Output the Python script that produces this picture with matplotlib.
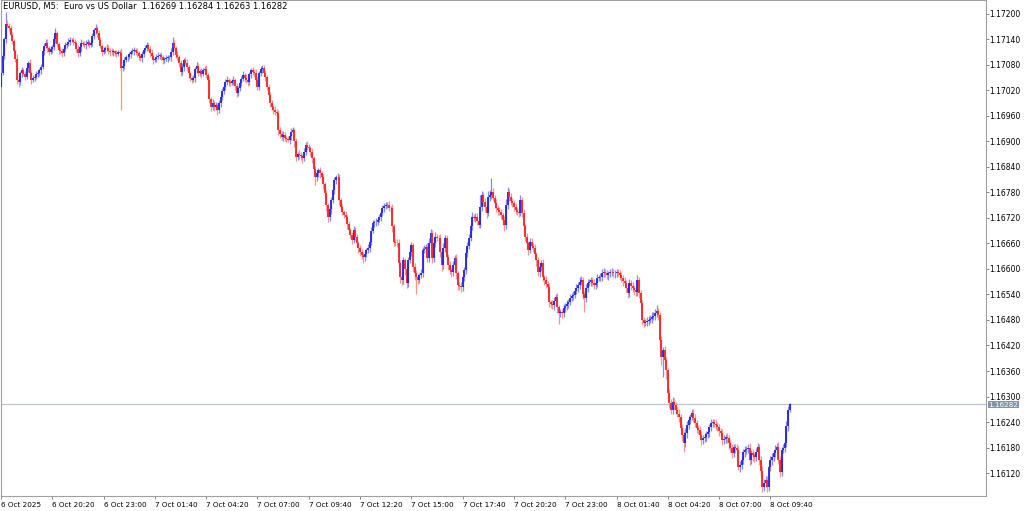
import matplotlib
matplotlib.use("Agg")
import matplotlib.pyplot as plt
import matplotlib.transforms as mtransforms

# EURUSD M5 bars, 6 Oct 17:40 -> 8 Oct 10:40
# prices are kept in points (0.00001) above 1.16000
BASE = 1.16
POINT = 0.00001
FIRST_OPEN = 1028

CLOSE = [
    1062, 1100, 1140, 1176, 1172, 1168, 1150, 1136, 1112, 1095, 1045, 1040, 1060, 1068, 1058, 1052, 1072, 1085, 1060, 1045,
    1050, 1052, 1058, 1061, 1068, 1075, 1112, 1125, 1132, 1120, 1111, 1118, 1122, 1140, 1155, 1130, 1115, 1112, 1108, 1118,
    1127, 1130, 1135, 1139, 1139, 1135, 1132, 1118, 1108, 1122, 1132, 1130, 1127, 1130, 1134, 1128, 1132, 1148, 1162, 1167,
    1155, 1139, 1125, 1111, 1115, 1120, 1120, 1114, 1111, 1110, 1112, 1108, 1106, 1110, 1108, 1073, 1078, 1092, 1098, 1099,
    1105, 1111, 1112, 1115, 1110, 1108, 1100, 1096, 1105, 1115, 1120, 1127, 1118, 1108, 1100, 1092, 1094, 1099, 1102, 1104,
    1098, 1092, 1094, 1096, 1098, 1099, 1110, 1132, 1120, 1104, 1098, 1085, 1064, 1075, 1092, 1085, 1075, 1060, 1049, 1045,
    1049, 1070, 1078, 1060, 1065, 1058, 1068, 1070, 1056, 1045, 1000, 981, 990, 981, 985, 974, 990, 1005, 1018, 1028,
    1040, 1045, 1040, 1038, 1042, 1045, 1030, 1014, 1025, 1038, 1048, 1056, 1050, 1045, 1040, 1058, 1068, 1064, 1061, 1045,
    1028, 1061, 1070, 1073, 1060, 1052, 1028, 1010, 991, 982, 974, 970, 967, 927, 918, 911, 915, 908, 906, 904,
    912, 922, 927, 900, 864, 870, 868, 865, 861, 875, 892, 888, 885, 875, 861, 835, 816, 825, 833, 825,
    816, 800, 779, 750, 722, 740, 762, 785, 809, 816, 816, 762, 745, 734, 728, 722, 705, 692, 680, 668,
    692, 675, 661, 650, 640, 632, 628, 636, 645, 650, 664, 690, 708, 710, 711, 716, 722, 732, 744, 748,
    751, 751, 744, 744, 700, 664, 662, 661, 614, 581, 574, 621, 600, 567, 621, 640, 656, 605, 590, 580,
    574, 585, 591, 645, 648, 652, 626, 660, 685, 626, 660, 675, 674, 673, 640, 609, 650, 673, 628, 610,
    598, 593, 610, 626, 590, 562, 560, 558, 580, 598, 638, 655, 673, 700, 722, 720, 722, 712, 704, 745,
    774, 758, 745, 732, 769, 775, 781, 767, 755, 744, 738, 734, 727, 715, 704, 750, 781, 769, 760, 755,
    745, 739, 735, 732, 762, 732, 700, 675, 660, 645, 664, 655, 649, 635, 621, 593, 605, 614, 581, 575,
    565, 558, 522, 518, 515, 525, 534, 510, 496, 498, 496, 508, 512, 518, 522, 532, 536, 539, 548, 555,
    562, 570, 574, 540, 532, 555, 567, 570, 574, 568, 562, 567, 579, 580, 581, 591, 593, 590, 586, 590,
    592, 593, 590, 591, 592, 591, 585, 579, 572, 567, 556, 544, 567, 560, 555, 550, 546, 574, 544, 520,
    480, 473, 475, 478, 480, 483, 487, 490, 496, 500, 491, 433, 393, 409, 385, 362, 308, 285, 268, 287,
    280, 268, 260, 252, 226, 210, 191, 215, 233, 245, 252, 261, 250, 238, 225, 221, 210, 198, 202, 205,
    212, 216, 228, 238, 240, 236, 232, 228, 220, 214, 198, 200, 204, 202, 191, 180, 167, 181, 178, 174,
    134, 140, 151, 169, 174, 176, 179, 151, 167, 162, 158, 170, 181, 151, 125, 87, 96, 104, 87, 134,
    150, 158, 167, 175, 181, 151, 122, 174, 180, 191, 230, 269, 282,
]

# wick lengths above the body top and below the body bottom, in points
UP_WICK = [
    20, 8, 6, 29, 10, 6, 5, 8, 4, 6, 10, 12, 6, 8, 5, 9, 6, 5, 10, 7,
    6, 5, 8, 4, 6, 7, 9, 6, 10, 8, 5, 7, 6, 8, 12, 6, 5, 9, 8, 6,
    7, 5, 9, 6, 4, 8, 6, 5, 10, 6, 8, 5, 7, 9, 6, 5, 8, 7, 6, 10,
    5, 8, 6, 4, 7, 5, 9, 6, 5, 8, 6, 4, 7, 5, 6, 12, 8, 6, 5, 7,
    6, 5, 8, 7, 5, 9, 6, 5, 8, 6, 7, 8, 5, 6, 9, 7, 5, 6, 8, 5,
    7, 6, 5, 8, 6, 5, 9, 14, 6, 5, 8, 6, 7, 9, 5, 6, 8, 5, 7, 6,
    8, 6, 9, 7, 5, 8, 6, 7, 10, 6, 8, 5, 9, 6, 7, 5, 8, 6, 9, 7,
    6, 8, 5, 7, 6, 9, 5, 8, 6, 7, 5, 9, 6, 8, 7, 5, 6, 8, 7, 9,
    6, 5, 8, 7, 6, 9, 5, 8, 6, 7, 5, 9, 6, 8, 7, 6, 10, 7, 5, 8,
    6, 9, 7, 5, 8, 6, 10, 7, 5, 9, 6, 8, 7, 5, 9, 6, 8, 7, 5, 8,
    6, 7, 5, 8, 6, 9, 7, 5, 8, 6, 10, 7, 6, 8, 5, 9, 6, 7, 5, 8,
    9, 6, 8, 5, 7, 6, 9, 7, 5, 8, 6, 9, 7, 6, 8, 5, 7, 9, 6, 8,
    7, 6, 9, 5, 8, 7, 6, 8, 9, 7, 10, 8, 6, 9, 7, 12, 8, 6, 9, 7,
    8, 6, 10, 7, 9, 6, 8, 14, 9, 7, 10, 12, 8, 6, 9, 7, 10, 6, 8, 7,
    9, 6, 8, 7, 10, 6, 8, 9, 7, 6, 10, 8, 9, 7, 12, 8, 10, 9, 7, 28,
    10, 8, 9, 12, 14, 10, 33, 9, 8, 10, 7, 9, 6, 8, 10, 14, 12, 8, 9, 7,
    8, 10, 7, 9, 12, 8, 10, 7, 9, 6, 10, 8, 7, 9, 6, 8, 10, 7, 9, 6,
    8, 7, 10, 6, 8, 9, 7, 10, 6, 8, 7, 9, 8, 10, 7, 9, 8, 10, 7, 9,
    8, 10, 9, 7, 8, 10, 9, 7, 8, 6, 9, 8, 10, 7, 9, 8, 10, 7, 8, 6,
    7, 9, 8, 6, 7, 9, 6, 8, 7, 9, 8, 6, 10, 7, 9, 8, 6, 12, 8, 7,
    6, 8, 7, 9, 10, 8, 12, 9, 10, 15, 8, 7, 10, 8, 9, 7, 6, 10, 8, 12,
    9, 7, 8, 10, 7, 9, 8, 10, 9, 8, 7, 10, 9, 8, 7, 9, 10, 8, 7, 9,
    8, 10, 7, 9, 8, 7, 10, 9, 8, 7, 9, 10, 8, 9, 7, 8, 9, 7, 8, 10,
    9, 8, 10, 7, 9, 8, 10, 12, 8, 9, 7, 10, 9, 8, 10, 12, 9, 8, 10, 12,
    10, 9, 8, 10, 9, 12, 10, 8, 9, 10, 12, 8, 2,
]

DOWN_WICK = [
    2, 6, 5, 8, 6, 9, 5, 7, 6, 8, 10, 12, 6, 9, 5, 7, 6, 8, 10, 9,
    6, 8, 5, 7, 6, 9, 5, 8, 6, 10, 7, 5, 9, 6, 8, 7, 10, 6, 9, 8,
    5, 7, 6, 9, 5, 8, 6, 7, 10, 6, 8, 5, 7, 9, 6, 8, 5, 7, 6, 9,
    8, 10, 6, 9, 5, 7, 6, 8, 9, 6, 10, 7, 8, 5, 6, 99, 8, 7, 6, 9,
    5, 8, 6, 9, 7, 10, 8, 6, 9, 7, 5, 8, 6, 9, 7, 10, 6, 8, 5, 7,
    6, 9, 7, 5, 8, 6, 9, 7, 5, 8, 6, 10, 9, 7, 8, 6, 9, 10, 7, 8,
    6, 8, 9, 7, 6, 8, 5, 9, 7, 6, 10, 9, 7, 10, 8, 12, 6, 8, 7, 6,
    8, 6, 9, 7, 6, 8, 10, 9, 7, 6, 8, 5, 9, 7, 10, 6, 8, 7, 9, 10,
    8, 6, 7, 9, 6, 10, 8, 9, 10, 7, 9, 8, 10, 12, 10, 8, 9, 7, 8, 6,
    10, 8, 7, 12, 9, 8, 10, 9, 12, 8, 7, 9, 8, 10, 12, 14, 18, 10, 8, 12,
    10, 12, 9, 14, 11, 8, 10, 7, 9, 8, 6, 12, 10, 8, 9, 10, 12, 9, 8, 10,
    8, 10, 9, 12, 10, 8, 14, 9, 8, 7, 10, 8, 6, 9, 8, 7, 6, 8, 7, 9,
    6, 8, 7, 9, 12, 10, 8, 9, 12, 14, 12, 10, 14, 12, 10, 8, 9, 12, 15, 40,
    10, 8, 7, 9, 8, 12, 10, 9, 7, 12, 10, 8, 9, 8, 12, 14, 8, 9, 15, 12,
    10, 12, 9, 10, 14, 12, 10, 12, 9, 8, 10, 9, 8, 7, 9, 8, 10, 9, 8, 7,
    8, 9, 10, 12, 8, 9, 10, 8, 12, 9, 10, 8, 9, 12, 14, 10, 8, 9, 10, 8,
    9, 10, 8, 9, 7, 10, 12, 9, 10, 12, 8, 9, 10, 12, 14, 10, 12, 9, 10, 12,
    10, 14, 12, 10, 9, 12, 10, 14, 26, 10, 12, 9, 10, 8, 9, 7, 8, 9, 7, 8,
    9, 8, 7, 10, 33, 9, 8, 7, 9, 8, 10, 8, 9, 7, 8, 9, 10, 8, 9, 12,
    8, 9, 10, 12, 9, 8, 10, 9, 12, 10, 9, 12, 10, 9, 8, 12, 10, 9, 12, 14,
    12, 10, 8, 9, 10, 8, 9, 7, 10, 9, 12, 20, 18, 47, 15, 20, 14, 12, 10, 9,
    12, 10, 9, 12, 10, 14, 22, 10, 12, 9, 10, 8, 9, 10, 12, 9, 10, 12, 9, 8,
    10, 9, 12, 10, 9, 8, 10, 9, 12, 10, 12, 9, 10, 12, 14, 10, 12, 9, 10, 12,
    7, 12, 10, 9, 12, 10, 9, 12, 10, 14, 12, 10, 9, 12, 14, 12, 10, 9, 12, 10,
    9, 12, 10, 9, 8, 10, 12, 9, 8, 10, 9, 12, 6,
]

TICK_EVERY = 32  # one time label every 32 bars (2h40m)
TIME_LABELS = [
    "6 Oct 2025", "6 Oct 20:20", "6 Oct 23:00", "7 Oct 01:40", "7 Oct 04:20",
    "7 Oct 07:00", "7 Oct 09:40", "7 Oct 12:20", "7 Oct 15:00", "7 Oct 17:40",
    "7 Oct 20:20", "7 Oct 23:00", "8 Oct 01:40", "8 Oct 04:20", "8 Oct 07:00",
    "8 Oct 09:40",
]
PRICE_TICKS = [1.16120, 1.16180, 1.16240, 1.16300, 1.16360, 1.16420, 1.16480,
               1.16540, 1.16600, 1.16660, 1.16720, 1.16780, 1.16840, 1.16900,
               1.16960, 1.17020, 1.17080, 1.17140, 1.17200]
HEADER = "EURUSD, M5:  Euro vs US Dollar  1.16269 1.16284 1.16263 1.16282"
LAST_PRICE = 1.16282

BULL = "#2323dc"
BEAR = "#f42424"
BULL_WICK = "#8888ec"
BEAR_WICK = "#f59494"
FRAME = "#a0a0a0"
FONT = 5.5


def build_bars():
    opens = [FIRST_OPEN] + CLOSE[:-1]
    highs, lows = [], []
    for o, c, up, dn in zip(opens, CLOSE, UP_WICK, DOWN_WICK):
        highs.append(max(o, c) + up)
        lows.append(min(o, c) - dn)
    to_price = lambda vals: [BASE + v * POINT for v in vals]
    return to_price(opens), to_price(highs), to_price(lows), to_price(CLOSE)


def main():
    opens, highs, lows, closes = build_bars()
    x = list(range(len(closes)))
    up = [c >= o for o, c in zip(opens, closes)]

    fig = plt.figure(figsize=(10.24, 5.11), dpi=100)
    ax = fig.add_axes([0.5 / 1024, 15 / 511, 985 / 1024, 496 / 511])

    ax.axhline(LAST_PRICE, color="#b9c0cf", lw=0.8, zorder=1)

    ax.vlines(x, lows, highs, colors=[BULL_WICK if u else BEAR_WICK for u in up],
              lw=0.9, zorder=2)
    ax.vlines(x, opens, closes, colors=[BULL if u else BEAR for u in up],
              lw=1.3, zorder=3)

    ax.set_xlim(-0.31, 614.2)
    ax.set_ylim(1.160659, 1.172329)

    for side, sp in ax.spines.items():
        sp.set_color(FRAME)
        sp.set_linewidth(0.8)

    ax.yaxis.tick_right()
    ax.set_yticks(PRICE_TICKS)
    ax.set_yticklabels([f"{p:.5f}" for p in PRICE_TICKS])
    ax.tick_params(axis="y", direction="out", length=2, width=0.6, color="#707070",
                   pad=1, labelsize=FONT)

    ax.set_xticks([i * TICK_EVERY for i in range(len(TIME_LABELS))])
    ax.set_xticklabels(TIME_LABELS)
    ax.tick_params(axis="x", direction="out", length=2, width=0.6, color="#707070",
                   pad=2, labelsize=5.2)
    for lbl in ax.get_xticklabels():
        lbl.set_horizontalalignment("left")

    # current price tag, sits just under the 1.16300 label like in the terminal
    trans = mtransforms.blended_transform_factory(ax.transAxes, ax.transData)
    ax.text(1.003, LAST_PRICE - 0.00001, f"{LAST_PRICE:.5f}", transform=trans,
            ha="left", va="center", fontsize=5.2, color="white",
            bbox=dict(boxstyle="square,pad=0.08", fc="#8494ae", ec="none"))

    fig.text(3 / 1024, 1 - 2 / 511, HEADER, ha="left", va="top", fontsize=6,
             color="black")

    fig.savefig("out.png", dpi=100)


if __name__ == "__main__":
    main()
